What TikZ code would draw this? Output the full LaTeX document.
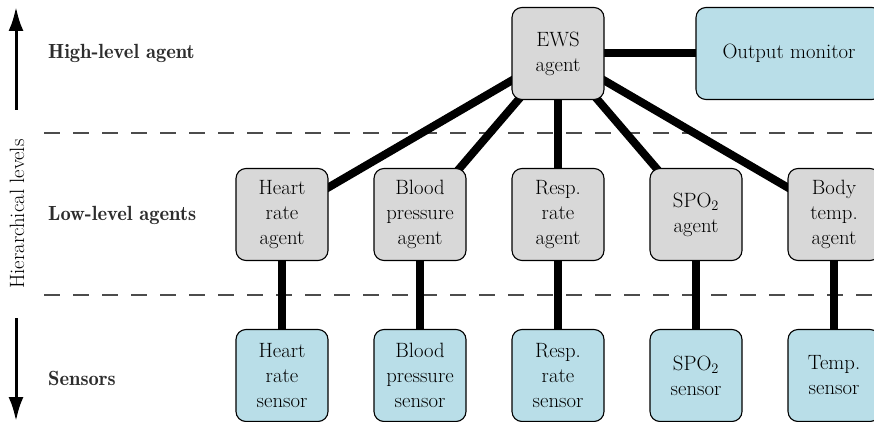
\documentclass[tikz,border=0pt]{standalone}
\usetikzlibrary{arrows.meta,backgrounds}
\definecolor{agentgray}{RGB}{216,216,216}
\definecolor{sensorblue}{RGB}{185,222,232}
\definecolor{labelgray}{RGB}{45,45,45}
\begin{document}
\begin{tikzpicture}[x=1pt,y=-1pt,
  box/.style={rounded corners=10pt, draw=black, line width=1.1pt, minimum width=92pt, minimum height=92pt, inner sep=0pt, align=center, font=\fontsize{20.7}{25}\selectfont},
  agent/.style={box, fill=agentgray},
  sensor/.style={box, fill=sensorblue},
  link/.style={line width=8pt},
  levelline/.style={draw=black!70, line width=2pt, dash pattern=on 16pt off 13pt},
  lvl/.style={anchor=west, inner sep=0pt, font=\fontsize{20.5}{24}\fontseries{b}\selectfont, text=labelgray},
  axisarrow/.style={line width=3pt, -{Latex[length=24pt,width=15pt]}}]
\clip (0,0) rectangle (874,422);
% top
\node[agent] (ews) at (558,53.5) {EWS\\agent};
\node[sensor, minimum width=186pt] (out) at (789,53.5) {Output monitor};
% agents
\node[agent] (hra) at (282,214.5) {Heart\\rate\\agent};
\node[agent] (bpa) at (420,214.5) {Blood\\pressure\\agent};
\node[agent] (rra) at (558,214.5) {Resp.\\rate\\agent};
\node[agent] (spa) at (696,214.5) {SPO$_2$\\agent};
\node[agent] (bta) at (834,214.5) {Body\\temp.\\agent};
% sensors
\node[sensor] (hrs) at (282,375.5) {Heart\\rate\\sensor};
\node[sensor] (bps) at (420,375.5) {Blood\\pressure\\sensor};
\node[sensor] (rrs) at (558,375.5) {Resp.\\rate\\sensor};
\node[sensor] (sps) at (696,375.5) {SPO$_2$\\sensor};
\node[sensor] (bts) at (834,375.5) {Temp.\\sensor};
% left labels
\node[lvl] (lhigh) at (48,53) {High-level agent};
\node[lvl] (llow) at (48,215) {Low-level agents};
\node[lvl] (lsens) at (48,378) {Sensors};
\node[rotate=90, inner sep=0pt, font=\fontsize{20.7}{25}\selectfont] (hier) at (17,214) {Hierarchical levels};
\coordinate (upstart) at (16,110);
\coordinate (uptip) at (16,7);
\coordinate (downstart) at (16,318);
\coordinate (downtip) at (16,421);
\draw[axisarrow] (upstart) -- (uptip);
\draw[axisarrow] (downstart) -- (downtip);
% dashed level lines and links behind
\coordinate (d1a) at (44,133);
\coordinate (d1b) at (874,133);
\coordinate (d2a) at (44,295);
\coordinate (d2b) at (874,295);
\begin{scope}[on background layer]
\draw[levelline] (d1a) -- (d1b);
\draw[levelline] (d2a) -- (d2b);
\draw[link] (ews.center) -- (out.center);
\foreach \a in {hra,bpa,rra,spa,bta}{\draw[link] (ews.center) -- (\a.center);}
\draw[link] (hra.center) -- (hrs.center);
\draw[link] (bpa.center) -- (bps.center);
\draw[link] (rra.center) -- (rrs.center);
\draw[link] (spa.center) -- (sps.center);
\draw[link] (bta.center) -- (bts.center);
\end{scope}
\end{tikzpicture}
\end{document}
